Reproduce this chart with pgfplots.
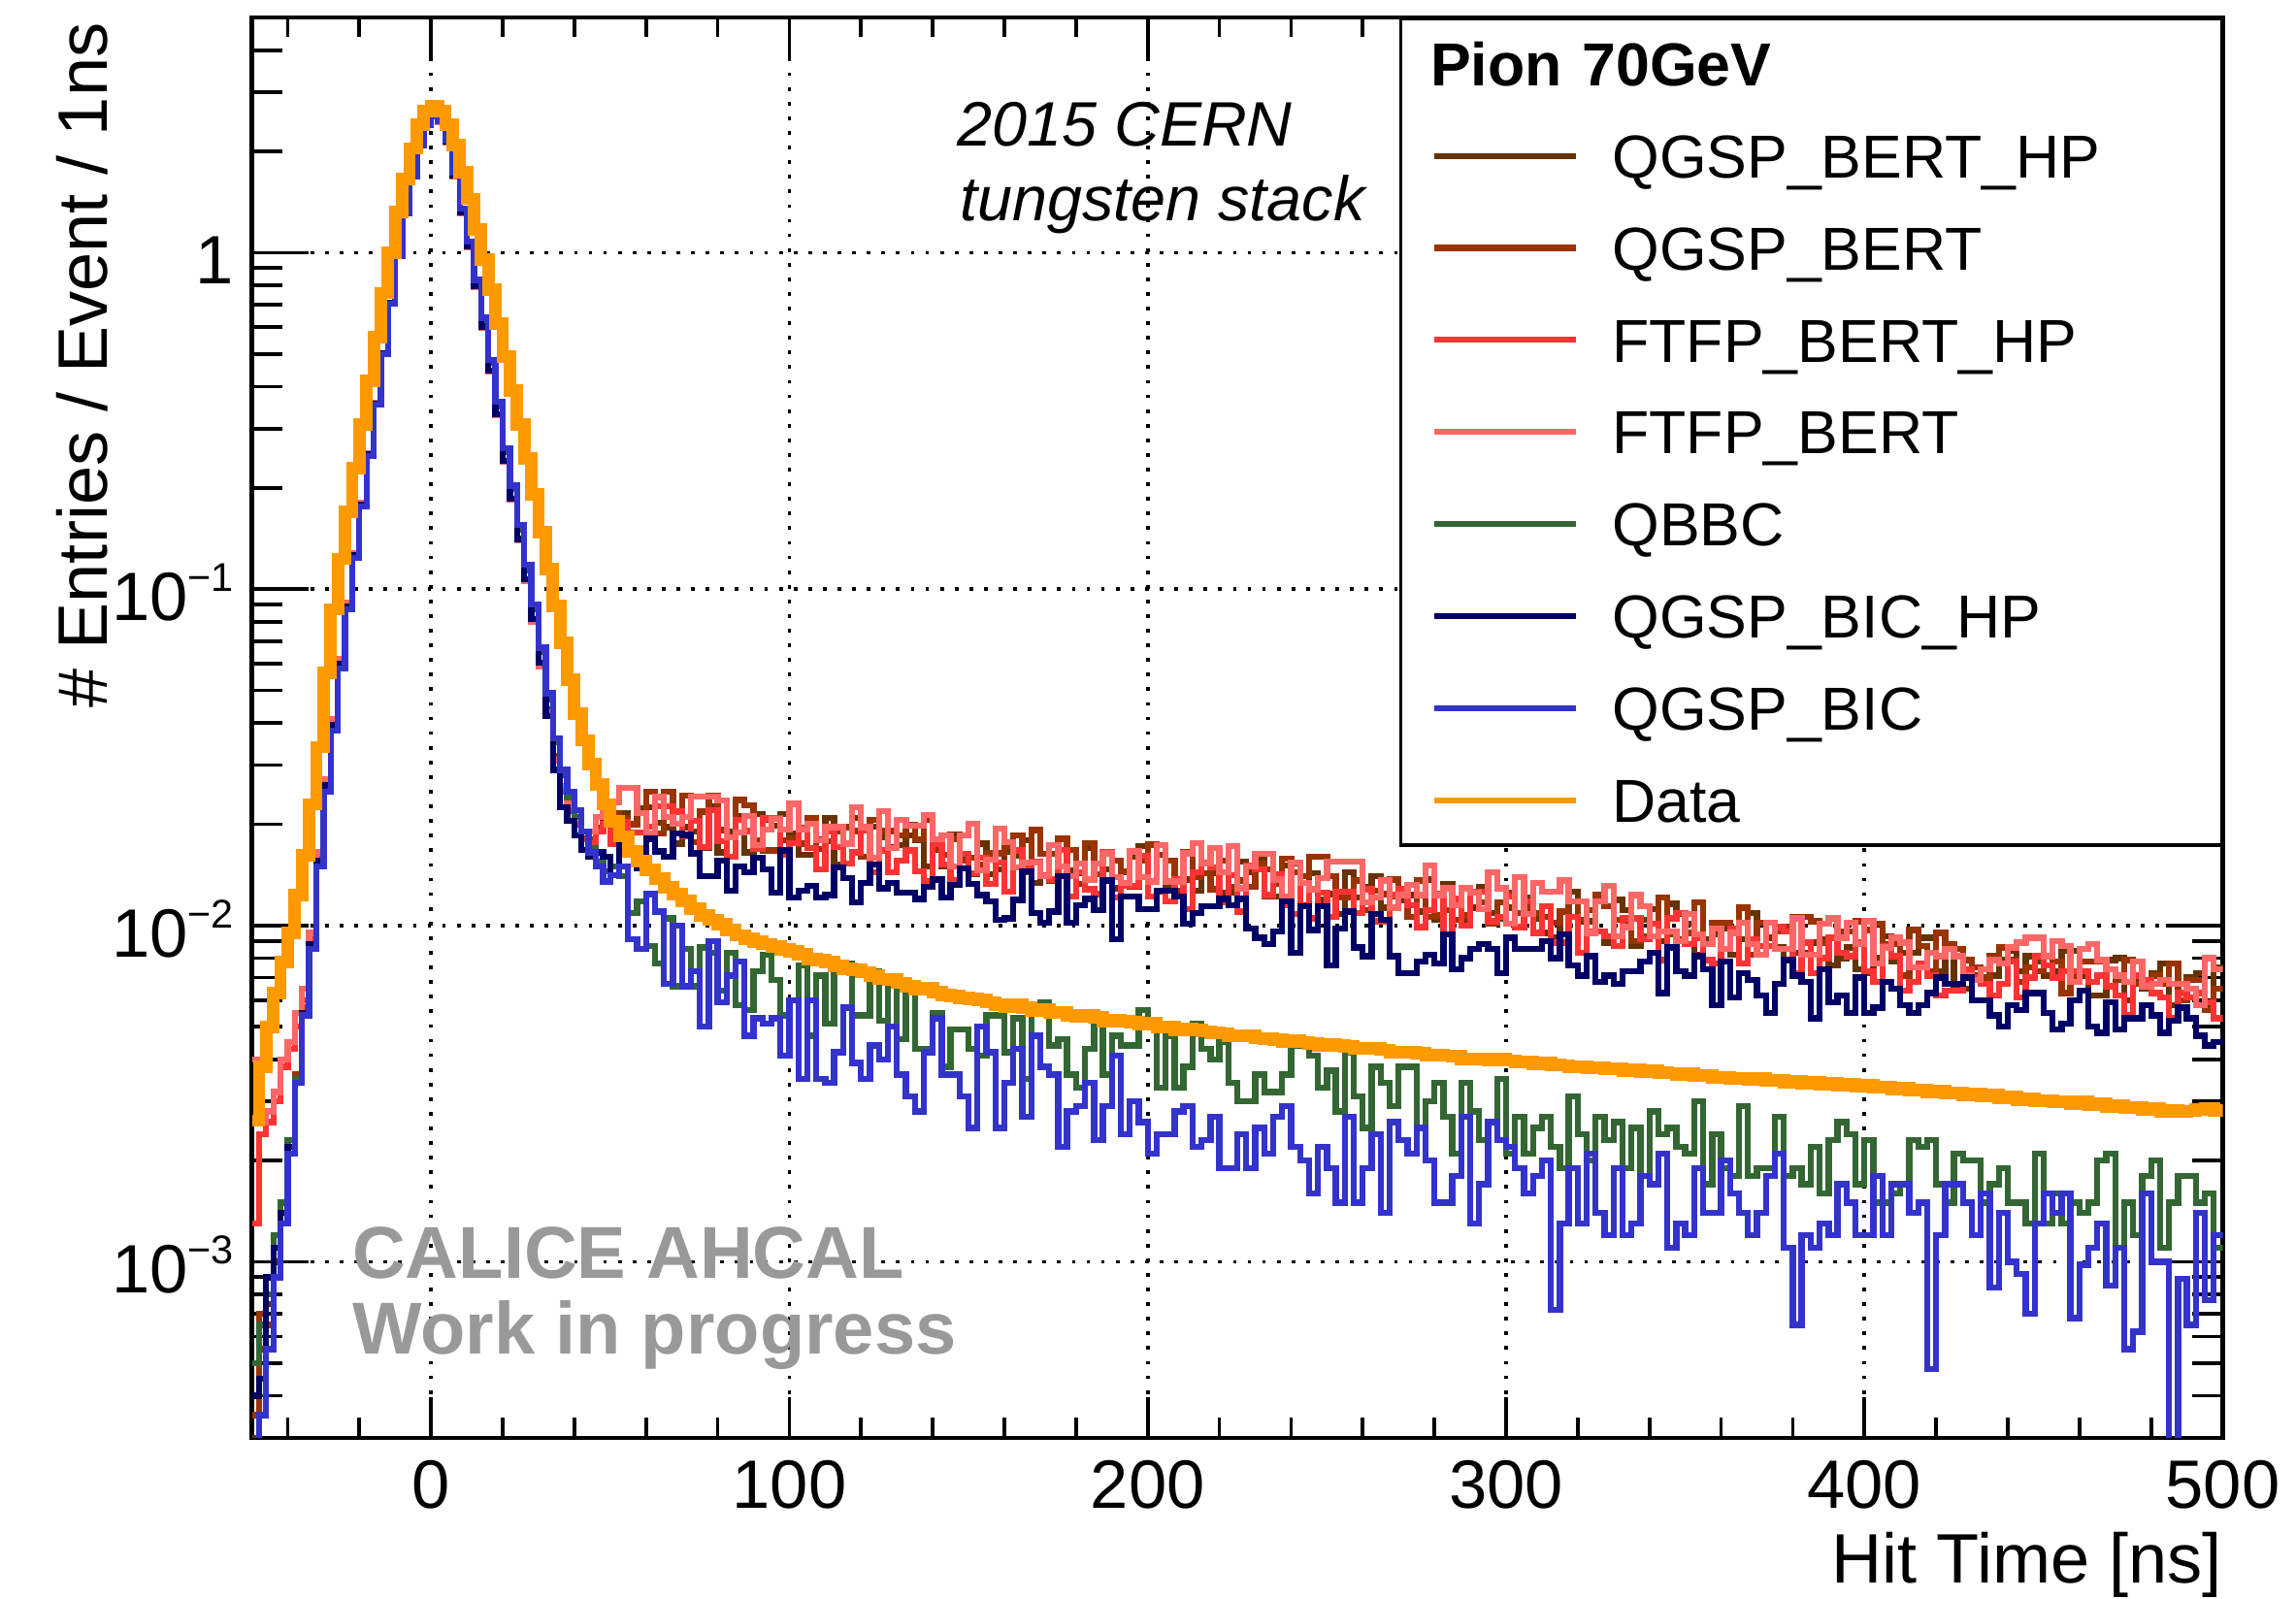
\documentclass[border=0pt]{standalone}
\usepackage{pgfplots}
\pgfplotsset{compat=1.18}
\usepackage{pgfplotstable}
\usepackage{fontspec}
\setmainfont{Liberation Sans}
\definecolor{cQBH}{HTML}{663300}
\definecolor{cQB}{HTML}{993300}
\definecolor{cFBH}{HTML}{FF3333}
\definecolor{cFB}{HTML}{FF6666}
\definecolor{cQBBC}{HTML}{336633}
\definecolor{cBICHP}{HTML}{000066}
\definecolor{cBIC}{HTML}{3333CC}
\definecolor{cData}{HTML}{FF9900}
\definecolor{wm}{HTML}{999999}
\newcommand{\tsup}[1]{\raisebox{2.0mm}{\fontsize{7.8}{9}\selectfont\symbol{"2212}#1}}

\pgfplotstableread{
x qbh qb fbh fb qbbc bichp bic data
-50 3.0e-4 3.5e-4 1.3e-3 4.0e-3 5.0e-4 4.0e-4 2.5e-4 2.63e-3
-48 5.5e-4 7.0e-4 2.4e-3 2.6e-3 6.5e-4 4.5e-4 3.5e-4 3.80e-3
-46 7.5e-4 6.5e-4 2.6e-3 2.8e-3 8.0e-4 9.0e-4 5.5e-4 5.00e-3
-44 1.0e-3 1.1e-3 3.0e-3 3.2e-3 1.2e-3 1.1e-3 9.0e-4 6.30e-3
-42 1.4e-3 1.5e-3 3.8e-3 4.0e-3 1.5e-3 1.4e-3 1.3e-3 7.80e-3
-40 2.2e-3 2.3e-3 4.3e-3 4.5e-3 2.3e-3 2.2e-3 2.1e-3 9.50e-3
-38 3.5e-3 3.6e-3 5.0e-3 5.5e-3 3.5e-3 3.4e-3 3.4e-3 0.0123
-36 5.6e-3 5.7e-3 6.0e-3 6.5e-3 5.5e-3 5.5e-3 5.4e-3 0.0162
-34 8.9e-3 9.0e-3 9.2e-3 9.5e-3 8.7e-3 8.8e-3 8.5e-3 0.0229
-32 0.0158 0.0160 0.0162 0.0165 0.0155 0.0156 0.0150 0.0339
-30 0.0263 0.0265 0.0270 0.0272 0.0260 0.0262 0.0250 0.0562
-28 0.0398 0.0400 0.0410 0.0410 0.0390 0.0395 0.0380 0.0871
-26 0.0603 0.0610 0.0620 0.0620 0.0590 0.0600 0.0580 0.123
-24 0.0891 0.0900 0.0910 0.0910 0.0880 0.0890 0.0870 0.170
-22 0.126 0.127 0.128 0.128 0.125 0.126 0.124 0.229
-20 0.178 0.179 0.180 0.180 0.177 0.178 0.176 0.309
-18 0.251 0.252 0.253 0.253 0.250 0.251 0.249 0.417
-16 0.355 0.356 0.357 0.357 0.354 0.355 0.353 0.562
-14 0.501 0.502 0.503 0.503 0.500 0.501 0.499 0.759
-12 0.708 0.710 0.710 0.710 0.705 0.708 0.705 1.000
-10 0.977 0.980 0.980 0.980 0.975 0.977 0.975 1.318
-8 1.318 1.320 1.320 1.320 1.310 1.318 1.310 1.660
-6 1.698 1.700 1.700 1.700 1.690 1.698 1.690 2.042
-4 2.089 2.090 2.090 2.090 2.080 2.089 2.080 2.399
-2 2.399 2.400 2.400 2.400 2.390 2.399 2.390 2.630
0 2.553 2.550 2.550 2.550 2.540 2.553 2.540 2.723
2 2.455 2.450 2.450 2.450 2.460 2.455 2.460 2.630
4 2.138 2.130 2.130 2.130 2.150 2.138 2.160 2.399
6 1.698 1.690 1.690 1.690 1.720 1.698 1.730 2.089
8 1.318 1.310 1.310 1.310 1.340 1.318 1.350 1.738
10 1.047 1.040 1.040 1.040 1.070 1.047 1.080 1.445
12 0.794 0.790 0.790 0.790 0.820 0.794 0.830 1.175
14 0.603 0.600 0.600 0.600 0.630 0.603 0.640 0.955
16 0.447 0.445 0.445 0.445 0.470 0.447 0.480 0.776
18 0.331 0.330 0.330 0.330 0.350 0.331 0.360 0.617
20 0.240 0.239 0.239 0.239 0.255 0.240 0.262 0.490
22 0.186 0.185 0.185 0.185 0.198 0.186 0.203 0.389
24 0.141 0.140 0.140 0.140 0.150 0.141 0.155 0.309
26 0.107 0.106 0.106 0.106 0.114 0.107 0.118 0.245
28 0.0813 0.0800 0.0800 0.0800 0.0870 0.0813 0.0900 0.191
30 0.0603 0.0600 0.0590 0.0590 0.0650 0.0603 0.0670 0.148
32 0.0437 0.0440 0.0430 0.0430 0.0470 0.0420 0.0490 0.115
34 0.0316 0.0320 0.0310 0.0310 0.0350 0.0290 0.0360 0.0891
36 0.0251 0.0260 0.0250 0.0260 0.0280 0.0225 0.0290 0.0692
38 0.0219 0.0230 0.0220 0.0230 0.0240 0.0205 0.0250 0.0537
40 0.0200 0.0210 0.0200 0.0210 0.0210 0.0185 0.0220 0.0427
42 0.0182 0.0190 0.0180 0.0190 0.0190 0.0168 0.0190 0.0355
44 0.0174 0.0180 0.0175 0.0190 0.0170 0.0160 0.0165 0.0302
46 0.0195 0.0210 0.0190 0.0210 0.0155 0.0165 0.0150 0.0263
48 0.0215 0.0230 0.0200 0.0230 0.0145 0.0160 0.0135 0.0229
50 0.0187 0.0216 0.0175 0.0232 0.0150 0.0141 0.0141 0.0204
52.5 0.0216 0.0209 0.0203 0.0257 0.0140 0.0174 0.0150 0.0184
55 0.0201 0.0200 0.0189 0.0257 0.0109 0.0166 0.0091 0.0166
57.5 0.0223 0.0216 0.0189 0.0216 0.0118 0.0148 0.0085 0.0155
60 0.0225 0.0250 0.0197 0.0188 0.0087 0.0181 0.0124 0.0146
62.5 0.0202 0.0188 0.0226 0.0241 0.0077 0.0166 0.0110 0.0138
65 0.0196 0.0250 0.0226 0.0210 0.0105 0.0160 0.0067 0.0130
67.5 0.0175 0.0218 0.0218 0.0201 0.0066 0.0188 0.0100 0.0124
70 0.0196 0.0243 0.0184 0.0210 0.0085 0.0186 0.0066 0.0118
72.5 0.0190 0.0177 0.0205 0.0242 0.0066 0.0164 0.0073 0.0112
75 0.0170 0.0218 0.0171 0.0242 0.0086 0.0140 0.0050 0.0107
77.5 0.0226 0.0243 0.0220 0.0242 0.0083 0.0140 0.0090 0.0104
80 0.0165 0.0192 0.0178 0.0235 0.0064 0.0156 0.0059 0.0101
82.5 0.0190 0.0184 0.0160 0.0183 0.0083 0.0127 0.0071 0.0097
85 0.0211 0.0236 0.0206 0.0189 0.0058 0.0150 0.0078 0.00935
87.5 0.0165 0.0228 0.0191 0.0212 0.0056 0.0144 0.0047 0.00915
90 0.0214 0.0179 0.0169 0.0173 0.0073 0.0159 0.0053 0.00895
92.5 0.0206 0.0167 0.0208 0.0193 0.0082 0.0147 0.0051 0.0088
95 0.0198 0.0167 0.0208 0.0207 0.0069 0.0125 0.0053 0.00866
97.5 0.0214 0.0179 0.0162 0.0193 0.0054 0.0167 0.0041 0.0085
100 0.0188 0.0182 0.0176 0.0230 0.0060 0.0121 0.0060 0.00838
102.5 0.0162 0.0175 0.0195 0.0193 0.0076 0.0127 0.0035 0.0082
105 0.0162 0.0209 0.0170 0.0201 0.0047 0.0131 0.0060 0.00795
107.5 0.0180 0.0169 0.0147 0.0179 0.0071 0.0121 0.0035 0.0079
110 0.0209 0.0178 0.0190 0.0196 0.0051 0.0123 0.0034 0.0078
112.5 0.0152 0.0191 0.0171 0.0196 0.0077 0.0149 0.0042 0.0076
115 0.0175 0.0196 0.0153 0.0175 0.0077 0.0138 0.0057 0.00742
117.5 0.0209 0.0191 0.0165 0.0225 0.0054 0.0117 0.0039 0.0074
120 0.0197 0.0160 0.0192 0.0196 0.0054 0.0134 0.0035 0.00726
122.5 0.0197 0.0206 0.0144 0.0159 0.0073 0.0152 0.0044 0.0071
125 0.0183 0.0191 0.0167 0.0219 0.0052 0.0129 0.0040 0.00693
127.5 0.0171 0.0191 0.0144 0.0170 0.0068 0.0134 0.0050 0.0069
130 0.0173 0.0185 0.0156 0.0206 0.0046 0.0125 0.0036 0.00675
132.5 0.0185 0.0199 0.0167 0.0198 0.0065 0.0125 0.0031 0.0066
135 0.0179 0.0180 0.0145 0.0198 0.0043 0.0120 0.0028 0.00648
137.5 0.0150 0.0206 0.0135 0.0213 0.0043 0.0130 0.0042 0.0065
140 0.0173 0.0168 0.0175 0.0180 0.0055 0.0137 0.0053 0.00632
142.5 0.0150 0.0162 0.0152 0.0185 0.0038 0.0121 0.0036 0.0062
145 0.0186 0.0180 0.0136 0.0150 0.0049 0.0132 0.0036 0.00616
147.5 0.0157 0.0156 0.0163 0.0185 0.0049 0.0148 0.0031 0.0061
150 0.0142 0.0159 0.0143 0.0201 0.0043 0.0133 0.0025 0.00606
152.5 0.0175 0.0152 0.0159 0.0146 0.0041 0.0123 0.0050 0.0060
155 0.0142 0.0164 0.0133 0.0157 0.0054 0.0118 0.0042 0.00591
157.5 0.0147 0.0164 0.0154 0.0194 0.0054 0.0104 0.0025 0.0058
160 0.0166 0.0172 0.0126 0.0177 0.0042 0.0105 0.0034 0.00574
162.5 0.0161 0.0185 0.0167 0.0149 0.0053 0.0119 0.0043 0.0058
165 0.0179 0.0144 0.0151 0.0154 0.0035 0.0145 0.0027 0.00569
167.5 0.0134 0.0192 0.0155 0.0154 0.0056 0.0109 0.0047 0.0056
170 0.0140 0.0163 0.0141 0.0140 0.0059 0.0102 0.0038 0.00562
172.5 0.0136 0.0163 0.0137 0.0173 0.0044 0.0110 0.0036 0.0055
175 0.0168 0.0181 0.0168 0.0150 0.0046 0.0140 0.0022 0.0055
177.5 0.0146 0.0168 0.0122 0.0140 0.0036 0.0102 0.0028 0.0054
180 0.0143 0.0133 0.0144 0.0153 0.0033 0.0115 0.0029 0.00537
182.5 0.0170 0.0176 0.0128 0.0137 0.0043 0.0120 0.0034 0.0054
185 0.0153 0.0142 0.0124 0.0153 0.0054 0.0111 0.0023 0.00533
187.5 0.0147 0.0164 0.0165 0.0164 0.0036 0.0136 0.0029 0.0052
190 0.0129 0.0156 0.0121 0.0139 0.0047 0.0091 0.0041 0.00523
192.5 0.0144 0.0145 0.0131 0.0134 0.0044 0.0122 0.0024 0.0052
195 0.0160 0.0130 0.0131 0.0166 0.0044 0.0122 0.0030 0.00516
197.5 0.0172 0.0156 0.0161 0.0139 0.0056 0.0112 0.0026 0.0051
200 0.0122 0.0174 0.0122 0.0135 0.0050 0.0112 0.0021 0.00511
202.5 0.0126 0.0162 0.0127 0.0173 0.0033 0.0127 0.0024 0.0050
205 0.0130 0.0156 0.0118 0.0135 0.0047 0.0127 0.0024 0.0050
207.5 0.0126 0.0127 0.0137 0.0135 0.0033 0.0122 0.0028 0.0049
210 0.0137 0.0165 0.0112 0.0164 0.0038 0.0101 0.0029 0.00492
212.5 0.0127 0.0139 0.0144 0.0176 0.0051 0.0109 0.0022 0.0049
215 0.0153 0.0143 0.0154 0.0153 0.0043 0.0114 0.0023 0.00484
217.5 0.0143 0.0128 0.0149 0.0170 0.0040 0.0114 0.0027 0.0048
220 0.0125 0.0156 0.0117 0.0144 0.0045 0.0120 0.0019 0.00478
222.5 0.0125 0.0130 0.0141 0.0172 0.0034 0.0115 0.0019 0.0047
225 0.0155 0.0136 0.0110 0.0129 0.0030 0.0120 0.0024 0.00469
227.5 0.0144 0.0130 0.0151 0.0150 0.0030 0.0098 0.0019 0.0047
230 0.0157 0.0153 0.0147 0.0163 0.0036 0.0092 0.0025 0.00462
232.5 0.0122 0.0147 0.0123 0.0163 0.0032 0.0088 0.0021 0.0046
235 0.0122 0.0133 0.0142 0.0137 0.0032 0.0096 0.0027 0.00458
237.5 0.0151 0.0158 0.0115 0.0122 0.0036 0.0118 0.0029 0.0045
240 0.0153 0.0144 0.0108 0.0154 0.0044 0.0083 0.0022 0.00455
242.5 0.0115 0.0140 0.0134 0.0134 0.0044 0.0114 0.0020 0.0045
245 0.0143 0.0160 0.0105 0.0128 0.0041 0.0097 0.0016 0.00446
247.5 0.0119 0.0160 0.0125 0.0138 0.0033 0.0114 0.0022 0.0044
250 0.0124 0.0140 0.0106 0.0155 0.0037 0.0076 0.0019 0.00443
252.5 0.0108 0.0121 0.0126 0.0155 0.0028 0.0098 0.0015 0.0044
255 0.0144 0.0121 0.0126 0.0155 0.0042 0.0110 0.0027 0.00436
257.5 0.0121 0.0136 0.0109 0.0155 0.0031 0.0086 0.0015 0.0043
260 0.0130 0.0111 0.0128 0.0117 0.0025 0.0081 0.0019 0.00431
262.5 0.0140 0.0127 0.0103 0.0121 0.0038 0.0108 0.0024 0.0043
265 0.0113 0.0124 0.0103 0.0136 0.0034 0.0104 0.0014 0.00427
267.5 0.0122 0.0137 0.0123 0.0113 0.0029 0.0081 0.0026 0.0042
270 0.0119 0.0123 0.0128 0.0123 0.0038 0.0072 0.0023 0.00421
272.5 0.0123 0.0106 0.0115 0.0132 0.0038 0.0072 0.0021 0.0042
275 0.0110 0.0136 0.0099 0.0123 0.0025 0.0078 0.0025 0.00418
277.5 0.0137 0.0106 0.0111 0.0151 0.0030 0.0082 0.0020 0.0041
280 0.0104 0.0107 0.0124 0.0123 0.0034 0.0077 0.0015 0.00411
282.5 0.0133 0.0111 0.0094 0.0129 0.0027 0.0094 0.0015 0.0041
285 0.0104 0.0104 0.0120 0.0115 0.0021 0.0074 0.0018 0.00408
287.5 0.0104 0.0107 0.0100 0.0129 0.0034 0.0080 0.0027 0.0040
290 0.0113 0.0125 0.0126 0.0125 0.0028 0.0085 0.0013 0.00402
292.5 0.0130 0.0117 0.0126 0.0112 0.0023 0.0088 0.0017 0.0040
295 0.0109 0.0101 0.0103 0.0144 0.0026 0.0085 0.0026 0.00399
297.5 0.0105 0.0117 0.0106 0.0129 0.0035 0.0072 0.0023 0.0040
300 0.0113 0.0125 0.0122 0.0101 0.0021 0.0092 0.0022 0.00397
302.5 0.0109 0.0109 0.0099 0.0139 0.0027 0.0085 0.0019 0.00392
305 0.0121 0.0113 0.0118 0.0108 0.0021 0.0085 0.0016 0.00393
307.5 0.0105 0.0109 0.0095 0.0134 0.0025 0.0085 0.0018 0.00388
310 0.0095 0.0106 0.0114 0.0126 0.0027 0.0090 0.0020 0.00390
312.5 0.0092 0.0102 0.0089 0.0126 0.0022 0.0080 0.00072 0.00386
315 0.0110 0.0110 0.0089 0.0136 0.0019 0.0094 0.0013 0.00384
317.5 0.0126 0.0118 0.0106 0.0118 0.0031 0.0076 0.0019 0.00380
320 0.0103 0.0104 0.0083 0.0118 0.0024 0.0071 0.0013 0.00381
322.5 0.0103 0.0111 0.0096 0.0095 0.0020 0.0081 0.0021 0.00377
325 0.0096 0.0123 0.0096 0.0118 0.0027 0.0068 0.0014 0.00378
327.5 0.0089 0.0114 0.0093 0.0131 0.0023 0.0071 0.0012 0.00374
330 0.0119 0.0104 0.0087 0.0093 0.0026 0.0067 0.0019 0.00375
332.5 0.0111 0.0101 0.0105 0.0099 0.0019 0.0073 0.0012 0.00371
335 0.0087 0.0090 0.0105 0.0123 0.0025 0.0073 0.0013 0.00372
337.5 0.0104 0.0093 0.0091 0.0114 0.0018 0.0078 0.0018 0.00368
340 0.0112 0.0101 0.0101 0.0093 0.0028 0.0083 0.0017 0.00370
342.5 0.0090 0.0121 0.0079 0.0096 0.0024 0.0063 0.0021 0.00365
345 0.0116 0.0094 0.0105 0.0096 0.0025 0.0086 0.0011 0.00364
347.5 0.0108 0.0091 0.0109 0.0090 0.0022 0.0073 0.0013 0.00361
350 0.0101 0.0095 0.0088 0.0108 0.0021 0.0071 0.0012 0.00362
352.5 0.0082 0.0117 0.0092 0.0094 0.0030 0.0081 0.0019 0.00357
355 0.0091 0.0088 0.0079 0.0088 0.0017 0.0074 0.0014 0.00358
357.5 0.0094 0.0102 0.0077 0.0098 0.0024 0.0058 0.0014 0.00354
360 0.0098 0.0102 0.0085 0.0085 0.0019 0.0078 0.0020 0.00354
362.5 0.0082 0.0095 0.0098 0.0095 0.0018 0.0061 0.0016 0.00350
365 0.0091 0.0113 0.0077 0.0102 0.0029 0.0072 0.0014 0.00352
367.5 0.0109 0.0082 0.0091 0.0088 0.0018 0.0069 0.0012 0.00348
370 0.0082 0.0102 0.0087 0.0082 0.0019 0.0062 0.0014 0.00350
372.5 0.0092 0.0102 0.0087 0.0102 0.0019 0.0055 0.0018 0.00345
375 0.0086 0.0096 0.0099 0.0085 0.0027 0.0067 0.0021 0.00346
377.5 0.0079 0.0099 0.0096 0.0085 0.0018 0.0079 0.0011 0.00342
380 0.0083 0.0106 0.0072 0.0105 0.0019 0.0071 0.00065 0.00345
382.5 0.0083 0.0106 0.0089 0.0082 0.0017 0.0068 0.0012 0.00340
385 0.0089 0.0103 0.0072 0.0082 0.0022 0.0053 0.0011 0.00343
387.5 0.0091 0.0089 0.0080 0.0101 0.0016 0.0074 0.0013 0.00338
390 0.0076 0.0092 0.0092 0.0105 0.0023 0.0059 0.0012 0.00340
392.5 0.0080 0.0096 0.0083 0.0092 0.0026 0.0062 0.0017 0.00335
395 0.0086 0.0096 0.0081 0.0102 0.0024 0.0055 0.0015 0.00337
397.5 0.0074 0.0103 0.0089 0.0088 0.0017 0.0070 0.0012 0.00333
400 0.0072 0.0097 0.0073 0.0103 0.0023 0.0055 0.0012 0.00335
402.5 0.0080 0.0101 0.0068 0.0077 0.0015 0.0057 0.0018 0.00330
405 0.0093 0.0088 0.0087 0.0086 0.0015 0.0068 0.0012 0.00331
407.5 0.0078 0.0088 0.0081 0.0092 0.0016 0.0065 0.0017 0.00326
410 0.0083 0.0071 0.0064 0.0089 0.0017 0.0058 0.0017 0.00328
412.5 0.0083 0.0097 0.0068 0.0075 0.0023 0.0055 0.0014 0.00323
415 0.0092 0.0087 0.0077 0.0075 0.0022 0.0058 0.0015 0.00324
417.5 0.0092 0.0073 0.0071 0.0083 0.0023 0.0063 0.00048 0.00320
420 0.0073 0.0095 0.0062 0.0081 0.0017 0.0070 0.0012 0.00322
422.5 0.0087 0.0088 0.0064 0.0085 0.0015 0.0067 0.0017 0.00317
425 0.0065 0.0085 0.0064 0.0081 0.0021 0.0067 0.0017 0.00317
427.5 0.0065 0.0079 0.0074 0.0071 0.0020 0.0070 0.0015 0.00314
430 0.0071 0.0075 0.0070 0.0069 0.0020 0.0060 0.0012 0.00315
432.5 0.0068 0.0070 0.0067 0.0074 0.0015 0.0060 0.0016 0.00311
435 0.0071 0.0081 0.0062 0.0079 0.0017 0.0054 0.00084 0.00313
437.5 0.0079 0.0086 0.0067 0.0077 0.0019 0.0050 0.0014 0.00308
440 0.0084 0.0079 0.0078 0.0086 0.0015 0.0058 0.0010 0.00309
442.5 0.0073 0.0068 0.0061 0.0089 0.0015 0.0056 0.00092 0.00304
445 0.0081 0.0075 0.0070 0.0092 0.0013 0.0063 0.00070 0.00305
447.5 0.0078 0.0073 0.0081 0.0092 0.0021 0.0063 0.0013 0.00301
450 0.0071 0.0081 0.0076 0.0081 0.0013 0.0055 0.0016 0.00302
452.5 0.0073 0.0078 0.0070 0.0090 0.0016 0.0049 0.0014 0.00299
455 0.0084 0.0063 0.0073 0.0087 0.0013 0.0051 0.0016 0.00300
457.5 0.0084 0.0070 0.0073 0.0068 0.0015 0.0060 0.00068 0.00296
460 0.0071 0.0078 0.0073 0.0085 0.0014 0.0064 0.00098 0.00299
462.5 0.0062 0.0078 0.0068 0.0088 0.0015 0.0050 0.0011 0.00294
465 0.0062 0.0078 0.0071 0.0079 0.0020 0.0048 0.0013 0.00295
467.5 0.0079 0.0066 0.0066 0.0074 0.0021 0.0059 0.00085 0.00290
470 0.0080 0.0069 0.0062 0.0071 0.0011 0.0049 0.0011 0.00292
472.5 0.0060 0.0079 0.0054 0.0068 0.0015 0.0053 0.00055 0.00287
475 0.0069 0.0067 0.0071 0.0078 0.0012 0.0053 0.00062 0.00288
477.5 0.0065 0.0069 0.0069 0.0066 0.0018 0.0058 0.0016 0.00284
480 0.0072 0.0071 0.0063 0.0067 0.0020 0.0054 0.0010 0.00285
482.5 0.0077 0.0067 0.0061 0.0069 0.0011 0.0048 0.0010 0.00280
485 0.0058 0.0077 0.0053 0.0067 0.0015 0.0052 0.00025 0.00282
487.5 0.0063 0.0060 0.0063 0.0067 0.0018 0.0057 0.00089 0.00279
490 0.0070 0.0069 0.0061 0.0065 0.0018 0.0053 0.00065 0.00281
492.5 0.0072 0.0069 0.0063 0.0058 0.0015 0.0047 0.0014 0.00283
495 0.0058 0.0056 0.0059 0.0080 0.0016 0.0044 0.00077 0.00285
497.5 0.0075 0.0065 0.0053 0.0074 0.0011 0.0045 0.0012 0.00282
500 0.0075 0.0065 0.0053 0.0074 0.0011 0.0045 0.0012 0.00282
}\hits

\begin{document}
\begin{tikzpicture}
\begin{axis}[
  scale only axis, width=134.6mm, height=97mm,
  xmin=-50, xmax=500, ymin=3e-4, ymax=5, ymode=log,
  axis line style={line width=0.3mm},
  every tick/.style={black, line width=0.25mm},
  tick align=inside,
  xtick={0,100,...,500},
  minor xtick={-40,-20,...,480},
  ytick={0.001,0.01,0.1,1},
  yticklabels={{10\tsup{3}},{10\tsup{2}},{10\tsup{1}},{1}},
  minor ytick={4e-4,5e-4,6e-4,7e-4,8e-4,9e-4,2e-3,3e-3,4e-3,5e-3,6e-3,7e-3,8e-3,9e-3,0.02,0.03,0.04,0.05,0.06,0.07,0.08,0.09,0.2,0.3,0.4,0.5,0.6,0.7,0.8,0.9,2,3,4},
  major tick length=3.9mm, minor tick length=2.1mm,
  x tick style={/pgfplots/major tick length=2.8mm,/pgfplots/minor tick length=1.35mm},
  grid=major,
  major grid style={black, line width=0.25mm, dash pattern=on 0.25mm off 0.75mm},
  /pgf/number format/assume math mode=true,
  tick label style={font=\fontsize{13.3}{15}\selectfont},
  xticklabel style={anchor=base, yshift=-4.85mm},
  yticklabel style={anchor=base east, yshift=-2.15mm},
  label style={font=\fontsize{13.6}{16}\selectfont},
  xlabel={Hit Time [ns]},
  xlabel style={at={(axis description cs:1,0)}, anchor=base east, yshift=-9.9mm, inner sep=0pt},
  ylabel={\# Entries / Event / 1ns},
  ylabel style={at={(axis description cs:-0.07355,0.99691)}, anchor=base east, inner sep=0pt},
  legend cell align=left,
  legend style={at={(rel axis cs:1,1)}, anchor=north east, draw=black, line width=0.2mm, fill=white,
    inner xsep=2.1mm, inner ysep=0.95mm, row sep=2.09mm,
    font=\fontsize{11.8}{14}\selectfont,
    nodes={inner sep=0pt, text width=39.5mm, align=left, text height=3.6mm, text depth=0.6mm}},
  legend image code/.code={\draw[#1, line width=0.4mm] (0mm,0mm) -- (9.65mm,0mm); \path (11.7mm,0mm);},
  every axis plot/.append style={const plot mark left, line width=0.42mm},
]
\addlegendimage{empty legend}
\addlegendentry{\hspace*{-12.4mm}\bfseries Pion 70GeV}
\addplot[cQBH] table[x=x,y=qbh]{\hits};
\addlegendentry{QGSP\_BERT\_HP}
\addplot[cQB] table[x=x,y=qb]{\hits};
\addlegendentry{QGSP\_BERT}
\addplot[cFBH] table[x=x,y=fbh]{\hits};
\addlegendentry{FTFP\_BERT\_HP}
\addplot[cFB] table[x=x,y=fb]{\hits};
\addlegendentry{FTFP\_BERT}
\addplot[cQBBC] table[x=x,y=qbbc]{\hits};
\addlegendentry{QBBC}
\addplot[cBICHP] table[x=x,y=bichp]{\hits};
\addlegendentry{QGSP\_BIC\_HP}
\addplot[cBIC] table[x=x,y=bic]{\hits};
\addlegendentry{QGSP\_BIC}
\addplot[cData, line width=0.85mm] table[x=x,y=data]{\hits};
\addlegendentry{Data}
\node[anchor=base west, inner sep=0pt, font=\itshape\fontsize{12.2}{14}\selectfont] at (rel axis cs:0.3574,0.9093) {2015 CERN};
\node[anchor=base west, inner sep=0pt, font=\itshape\fontsize{12.2}{14}\selectfont] at (rel axis cs:0.3588,0.8567) {tungsten stack};
\node[anchor=base west, inner sep=0pt, text=wm, font=\bfseries\fontsize{14.3}{16}\selectfont] at (rel axis cs:0.0505,0.1124) {CALICE AHCAL};
\node[anchor=base west, inner sep=0pt, text=wm, font=\bfseries\fontsize{14.3}{16}\selectfont] at (rel axis cs:0.0505,0.0588) {Work in progress};
\end{axis}
\pgfresetboundingbox
\path[use as bounding box] ([shift={(-17.2mm,-11mm)}]current axis.south west) rectangle ([shift={(5mm,1.2mm)}]current axis.north east);
\end{tikzpicture}
\end{document}
